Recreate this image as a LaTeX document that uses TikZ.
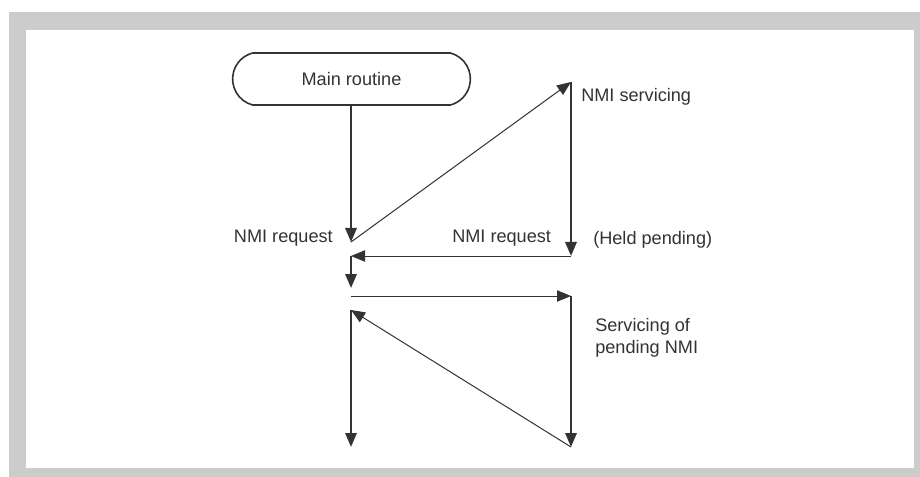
\documentclass[tikz,border=0pt]{standalone}
\usepackage{fontspec}
\setmainfont{Liberation Sans}
\usetikzlibrary{arrows.meta,shapes.misc}
\definecolor{ink}{HTML}{333333}
\definecolor{frame}{HTML}{CCCCCC}
\begin{document}
\begin{tikzpicture}[x=0.75pt,y=-0.75pt,
  lbl/.style={font=\fontsize{13.6pt}{16.5pt}\selectfont, text=ink, inner sep=0pt},
  thick line/.style={draw=ink, line width=1.7pt, -{Triangle[length=10.5pt,width=8.5pt]}},
  thin line/.style={draw=ink, line width=0.75pt, -{Triangle[length=10.5pt,width=8.5pt]}}]
\useasboundingbox (0,0) rectangle (920,477);
\fill[white] (0,0) rectangle (920,477);
\fill[frame] (9,12) rectangle (920,477);
\fill[white] (26,30) rectangle (914,468);
% main routine
\node[draw=ink, line width=1.2pt, rounded rectangle, rounded rectangle arc length=150,
  minimum width=185pt, minimum height=39pt,
  font=\fontsize{13.6pt}{16.5pt}\selectfont, text=ink] (main) at (351.5,79) {Main routine};
% coordinates
\coordinate (r1) at (351,242);
\coordinate (s1) at (571,82);
\coordinate (s2) at (571,256);
\coordinate (r2) at (351,256);
\coordinate (r3) at (351,288);
\coordinate (r4) at (351,296);
\coordinate (s3) at (571,296);
\coordinate (s4) at (571,447);
\coordinate (r5) at (351,310);
\coordinate (r6) at (351,447);
% connectors
\draw[thick line] (main.south -| r1) -- (r1);
\draw[thin line] (r1) -- (s1);
\draw[thick line] (s1) -- (s2);
\draw[thin line] (s2) -- (r2);
\draw[thick line] (r2) -- (r3);
\draw[thin line] (r4) -- (s3);
\draw[thick line] (s3) -- (s4);
\draw[thin line] (s4) -- (r5);
\draw[thick line] (r5) -- (r6);
% labels
\node[lbl, anchor=east] (l1) at (333,238) {NMI request};
\node[lbl, anchor=west] (l2) at (452,238) {NMI request};
\node[lbl, anchor=west] (l3) at (581,97) {NMI servicing};
\node[lbl, anchor=west] (l4) at (593,240) {(Held pending)};
\node[lbl, anchor=west, align=left] (l5) at (595,338) {Servicing of\\pending NMI};
\end{tikzpicture}
\end{document}
